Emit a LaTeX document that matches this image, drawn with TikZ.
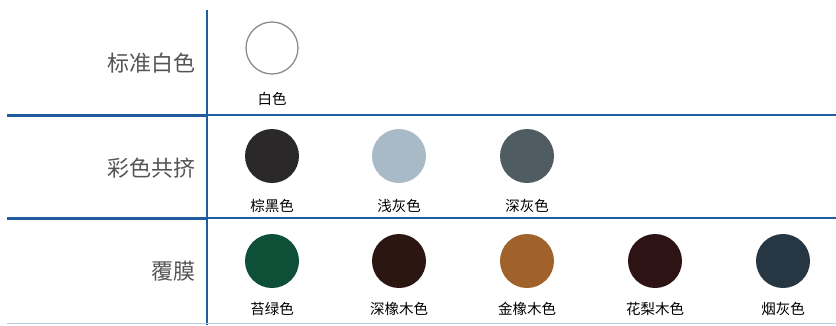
\documentclass[tikz,border=0pt]{standalone}
\usepackage{fontspec}
\newfontfamily\cjk{Noto Sans CJK SC}
\definecolor{lineblue}{HTML}{1F5CA0}
\definecolor{paleblue}{HTML}{B8CFE6}
\definecolor{rowgray}{HTML}{555555}
\definecolor{cBlack}{HTML}{2A2828}
\definecolor{cLight}{HTML}{A9BAC7}
\definecolor{cDark}{HTML}{4F5C61}
\definecolor{cMoss}{HTML}{0E4F38}
\definecolor{cDarkOak}{HTML}{2B1611}
\definecolor{cGoldOak}{HTML}{A0622A}
\definecolor{cRose}{HTML}{2E1314}
\definecolor{cSmoke}{HTML}{263642}
\tikzset{
  swatch/.style={circle, minimum size=54pt, inner sep=0pt},
  itemlabel/.style={font=\cjk\fontsize{14.5}{16}\selectfont, text=black, inner sep=0pt},
  rowlabel/.style={font=\cjk\fontsize{22}{25}\selectfont, text=rowgray, anchor=east, inner sep=0pt},
}
\begin{document}
\begin{tikzpicture}[x=1pt,y=-1pt]
\useasboundingbox (0,0) rectangle (836,325);
\fill[white] (0,0) rectangle (836,325);
% grid lines
\coordinate (vt) at (207,10);
\coordinate (vb) at (207,325);
\draw[lineblue, line width=1.3pt] (vt) -- (vb);
\coordinate (h1l) at (7,115); \coordinate (h1m) at (207,115); \coordinate (h1r) at (836,115);
\coordinate (h2l) at (7,218); \coordinate (h2m) at (207,218); \coordinate (h2r) at (836,218);
\coordinate (h3l) at (7,323.5); \coordinate (h3r) at (836,323.5);
\draw[lineblue, line width=3pt] (h1l) -- (h1m);
\draw[lineblue, line width=1.4pt] (h1m) -- (h1r);
\draw[lineblue, line width=3pt] (h2l) -- (h2m);
\draw[lineblue, line width=1.4pt] (h2m) -- (h2r);
\draw[paleblue, line width=1.2pt] (h3l) -- (h3r);
% row labels
\node[rowlabel] (r1) at (196,63) {标准白色};
\node[rowlabel] (r2) at (196,168) {彩色共挤};
\node[rowlabel] (r3) at (196,271) {覆膜};
% row 1
\node[swatch, draw=gray!90, line width=1.3pt, fill=white, minimum size=52pt] (w) at (272,48) {};
\node[itemlabel] (wl) at (272,99) {白色};
% row 2
\node[swatch, fill=cBlack] (a1) at (272,156) {};
\node[swatch, fill=cLight] (a2) at (399,156) {};
\node[swatch, fill=cDark] (a3) at (527,156) {};
\node[itemlabel] (a1l) at (272,206) {棕黑色};
\node[itemlabel] (a2l) at (399,206) {浅灰色};
\node[itemlabel] (a3l) at (527,206) {深灰色};
% row 3
\node[swatch, fill=cMoss] (b1) at (272,261) {};
\node[swatch, fill=cDarkOak] (b2) at (399,261) {};
\node[swatch, fill=cGoldOak] (b3) at (527,261) {};
\node[swatch, fill=cRose] (b4) at (655,261) {};
\node[swatch, fill=cSmoke] (b5) at (783,261) {};
\node[itemlabel] (b1l) at (272,309) {苔绿色};
\node[itemlabel] (b2l) at (399,309) {深橡木色};
\node[itemlabel] (b3l) at (527,309) {金橡木色};
\node[itemlabel] (b4l) at (655,309) {花梨木色};
\node[itemlabel] (b5l) at (783,309) {烟灰色};
\end{tikzpicture}
\end{document}
